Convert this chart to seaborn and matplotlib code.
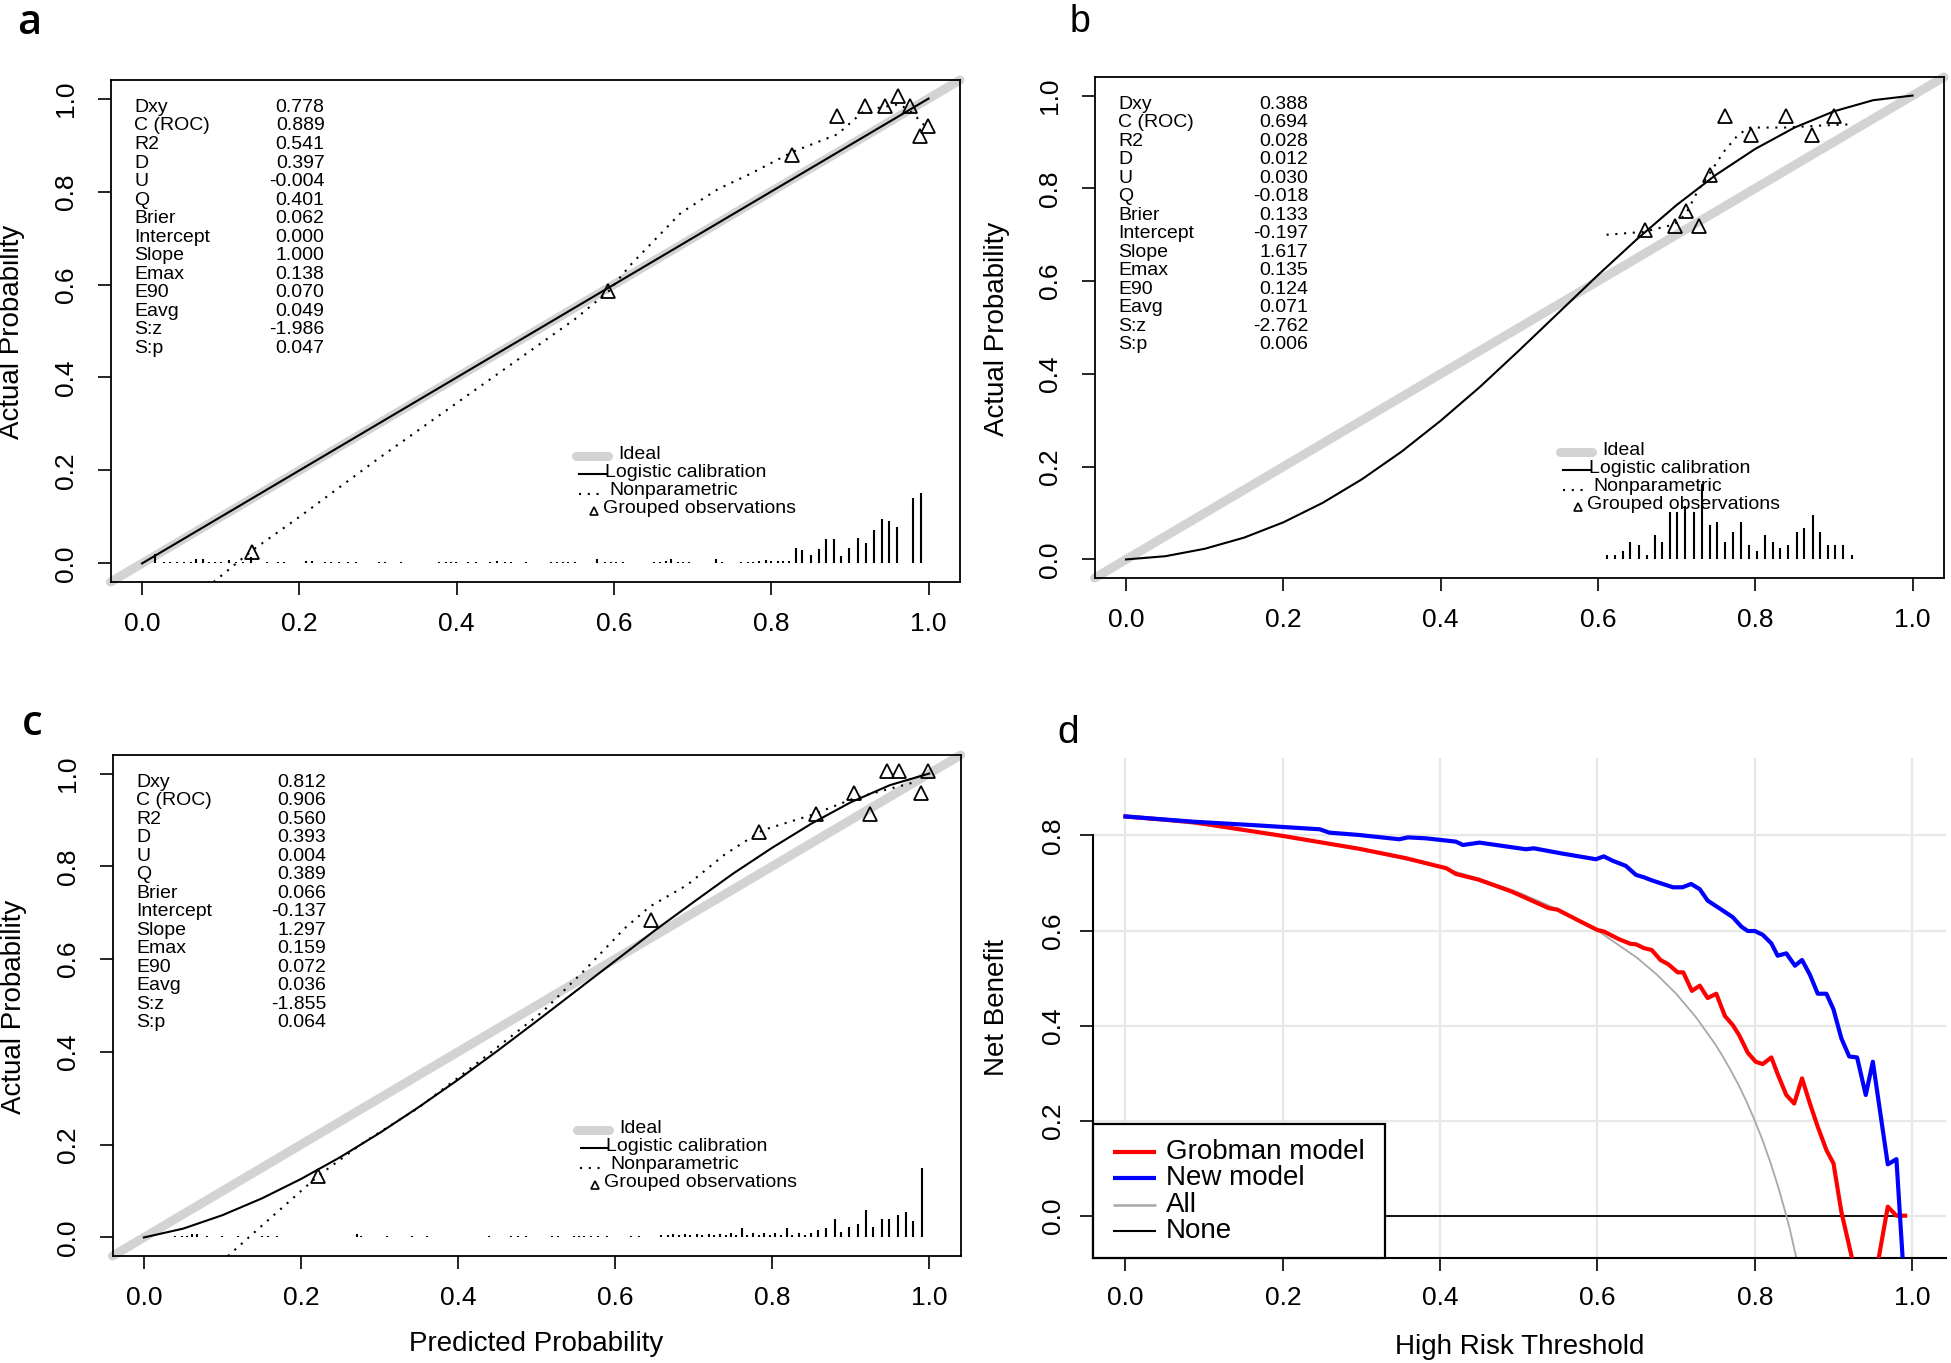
import matplotlib
matplotlib.use("Agg")
import matplotlib.pyplot as plt
import seaborn as sns
import pandas as pd
from matplotlib.patches import Rectangle

plt.rcParams['font.family'] = ['Liberation Sans', 'DejaVu Sans']

# ---------------- data ----------------
stat_names = ["Dxy", "C (ROC)", "R2", "D", "U", "Q", "Brier", "Intercept", "Slope",
              "Emax", "E90", "Eavg", "S:z", "S:p"]
stats_a = ["0.778", "0.889", "0.541", "0.397", "-0.004", "0.401", "0.062", "0.000", "1.000",
           "0.138", "0.070", "0.049", "-1.986", "0.047"]
stats_b = ["0.388", "0.694", "0.028", "0.012", "0.030", "-0.018", "0.133", "-0.197", "1.617",
           "0.135", "0.124", "0.071", "-2.762", "0.006"]
stats_c = ["0.812", "0.906", "0.560", "0.393", "0.004", "0.389", "0.066", "-0.137", "1.297",
           "0.159", "0.072", "0.036", "-1.855", "0.064"]

ideal_x = [-0.04, 1.04]
ideal_y = [-0.04, 1.04]

# panel a
logit_a_x = [0.0, 1.0]
logit_a_y = [0.0, 1.0]
np_a_x = [0.091, 0.140, 0.200, 0.300, 0.400, 0.500, 0.550, 0.593, 0.621, 0.653, 0.685, 0.732,
          0.772, 0.828, 0.884, 0.919, 0.963, 0.979, 0.995]
np_a_y = [-0.040, 0.028, 0.100, 0.225, 0.345, 0.465, 0.525, 0.585, 0.642, 0.698, 0.754, 0.805,
          0.837, 0.886, 0.923, 0.975, 0.988, 0.970, 0.942]
tri_a_x = [0.140, 0.593, 0.826, 0.884, 0.919, 0.945, 0.961, 0.977, 0.989, 0.999]
tri_a_y = [0.025, 0.586, 0.878, 0.963, 0.984, 0.984, 1.006, 0.984, 0.920, 0.942]
spk_a_x = [0.017, 0.028, 0.036, 0.045, 0.053, 0.062, 0.069, 0.077, 0.085, 0.093, 0.100, 0.110,
           0.119, 0.128, 0.138, 0.159, 0.173, 0.181, 0.209, 0.216, 0.232, 0.240, 0.251, 0.262,
           0.272, 0.301, 0.309, 0.329, 0.378, 0.386, 0.393, 0.399, 0.414, 0.424, 0.443, 0.451,
           0.461, 0.469, 0.488, 0.520, 0.528, 0.535, 0.542, 0.550, 0.579, 0.588, 0.596, 0.603,
           0.611, 0.651, 0.659, 0.666, 0.673, 0.681, 0.688, 0.696, 0.730, 0.738, 0.762, 0.770,
           0.777, 0.785, 0.793, 0.800, 0.808, 0.815, 0.822, 0.831, 0.839, 0.851, 0.861, 0.870,
           0.880, 0.889, 0.899, 0.910, 0.921, 0.931, 0.941, 0.950, 0.960, 0.980, 0.991]
spk_a_h = [0.021, 0.004, 0.004, 0.004, 0.004, 0.004, 0.009, 0.009, 0.004, 0.004, 0.004, 0.008,
           0.004, 0.004, 0.014, 0.004, 0.004, 0.004, 0.006, 0.006, 0.004, 0.004, 0.004, 0.004,
           0.004, 0.004, 0.004, 0.004, 0.004, 0.004, 0.004, 0.004, 0.004, 0.004, 0.004, 0.006,
           0.004, 0.004, 0.004, 0.004, 0.004, 0.004, 0.004, 0.004, 0.009, 0.004, 0.004, 0.004,
           0.004, 0.004, 0.004, 0.006, 0.009, 0.004, 0.004, 0.004, 0.009, 0.004, 0.004, 0.004,
           0.004, 0.005, 0.008, 0.005, 0.005, 0.006, 0.005, 0.034, 0.029, 0.018, 0.032, 0.052,
           0.052, 0.016, 0.034, 0.054, 0.043, 0.071, 0.095, 0.092, 0.079, 0.140, 0.151]

# panel b
logit_b_x = [0.00, 0.05, 0.10, 0.15, 0.20, 0.25, 0.30, 0.35, 0.40, 0.45, 0.50, 0.55, 0.60,
             0.65, 0.70, 0.75, 0.80, 0.85, 0.90, 0.95, 1.00]
logit_b_y = [0.000, 0.007, 0.023, 0.047, 0.080, 0.122, 0.173, 0.232, 0.299, 0.372, 0.451, 0.532,
             0.613, 0.691, 0.764, 0.829, 0.885, 0.931, 0.966, 0.990, 1.000]
np_b_x = [0.611, 0.657, 0.697, 0.712, 0.727, 0.742, 0.760, 0.779, 0.794, 0.838, 0.880, 0.921]
np_b_y = [0.700, 0.706, 0.722, 0.745, 0.795, 0.832, 0.879, 0.917, 0.931, 0.931, 0.935, 0.938]
tri_b_x = [0.660, 0.698, 0.728, 0.712, 0.742, 0.762, 0.794, 0.839, 0.872, 0.900]
tri_b_y = [0.711, 0.718, 0.718, 0.751, 0.829, 0.957, 0.915, 0.957, 0.915, 0.957]
spk_b_x = [0.611, 0.622, 0.632, 0.641, 0.652, 0.662, 0.672, 0.682, 0.691, 0.701, 0.711, 0.722,
           0.732, 0.742, 0.752, 0.761, 0.772, 0.782, 0.792, 0.802, 0.812, 0.822, 0.832, 0.842,
           0.853, 0.862, 0.873, 0.882, 0.892, 0.902, 0.912, 0.923]
spk_b_h = [0.009, 0.009, 0.018, 0.038, 0.031, 0.009, 0.052, 0.038, 0.102, 0.102, 0.115, 0.102,
           0.162, 0.074, 0.081, 0.038, 0.060, 0.081, 0.031, 0.018, 0.052, 0.038, 0.025, 0.031,
           0.060, 0.067, 0.096, 0.060, 0.031, 0.031, 0.031, 0.009]

# panel c
logit_c_x = [0.00, 0.05, 0.10, 0.15, 0.20, 0.25, 0.30, 0.35, 0.40, 0.45, 0.50, 0.55, 0.60,
             0.65, 0.70, 0.75, 0.80, 0.85, 0.90, 0.95, 1.00]
logit_c_y = [0.000, 0.019, 0.048, 0.084, 0.126, 0.173, 0.225, 0.281, 0.340, 0.402, 0.466, 0.531,
             0.596, 0.661, 0.723, 0.784, 0.840, 0.892, 0.938, 0.975, 1.000]
np_c_x = [0.107, 0.150, 0.222, 0.280, 0.350, 0.420, 0.508, 0.564, 0.612, 0.644, 0.692, 0.740,
          0.788, 0.851, 0.905, 0.945, 0.985]
np_c_y = [-0.040, 0.025, 0.133, 0.205, 0.280, 0.370, 0.487, 0.581, 0.666, 0.713, 0.760, 0.826,
          0.878, 0.911, 0.947, 0.965, 0.983]
tri_c_x = [0.222, 0.646, 0.783, 0.856, 0.904, 0.925, 0.946, 0.962, 0.998, 0.990]
tri_c_y = [0.133, 0.685, 0.873, 0.912, 0.959, 0.912, 1.005, 1.005, 1.005, 0.959]
spk_c_x = [0.040, 0.048, 0.055, 0.061, 0.068, 0.080, 0.099, 0.120, 0.150, 0.158, 0.169, 0.271,
           0.277, 0.309, 0.341, 0.360, 0.440, 0.468, 0.477, 0.487, 0.520, 0.527, 0.548, 0.554,
           0.561, 0.569, 0.578, 0.590, 0.620, 0.631, 0.659, 0.667, 0.674, 0.681, 0.689, 0.696,
           0.704, 0.711, 0.719, 0.726, 0.733, 0.741, 0.748, 0.754, 0.761, 0.768, 0.776, 0.783,
           0.790, 0.797, 0.804, 0.811, 0.819, 0.825, 0.834, 0.842, 0.849, 0.859, 0.868, 0.880,
           0.888, 0.898, 0.909, 0.920, 0.929, 0.940, 0.949, 0.960, 0.970, 0.980, 0.991]
spk_c_h = [0.004, 0.004, 0.004, 0.008, 0.008, 0.004, 0.004, 0.004, 0.004, 0.004, 0.004, 0.008,
           0.004, 0.004, 0.004, 0.004, 0.004, 0.004, 0.004, 0.004, 0.004, 0.004, 0.004, 0.004,
           0.004, 0.004, 0.004, 0.004, 0.004, 0.004, 0.005, 0.005, 0.008, 0.005, 0.008, 0.005,
           0.008, 0.005, 0.008, 0.005, 0.008, 0.006, 0.010, 0.006, 0.020, 0.006, 0.010, 0.006,
           0.010, 0.006, 0.010, 0.006, 0.020, 0.006, 0.010, 0.006, 0.010, 0.016, 0.020, 0.040,
           0.011, 0.022, 0.029, 0.059, 0.023, 0.040, 0.040, 0.048, 0.054, 0.036, 0.150]

# panel d (decision curves)
new_t = [0.000, 0.086, 0.170, 0.247, 0.259, 0.297, 0.348, 0.359, 0.382, 0.420, 0.429, 0.450,
         0.492, 0.509, 0.519, 0.555, 0.598, 0.608, 0.619, 0.636, 0.649, 0.659, 0.670, 0.696,
         0.708, 0.719, 0.730, 0.740, 0.763, 0.772, 0.783, 0.791, 0.800, 0.810, 0.821, 0.829,
         0.840, 0.851, 0.860, 0.870, 0.880, 0.891, 0.900, 0.910, 0.920, 0.930, 0.941, 0.950,
         0.969, 0.980, 0.990]
new_nb = [0.840, 0.829, 0.821, 0.813, 0.806, 0.801, 0.792, 0.796, 0.794, 0.787, 0.780, 0.785,
          0.775, 0.771, 0.773, 0.762, 0.750, 0.756, 0.747, 0.736, 0.717, 0.712, 0.705, 0.691,
          0.691, 0.698, 0.687, 0.663, 0.638, 0.628, 0.608, 0.599, 0.599, 0.591, 0.573, 0.547,
          0.552, 0.526, 0.538, 0.507, 0.467, 0.467, 0.434, 0.373, 0.335, 0.333, 0.254, 0.324,
          0.108, 0.119, -0.146]
grob_t = [0.000, 0.086, 0.200, 0.297, 0.357, 0.408, 0.420, 0.449, 0.491, 0.538, 0.549, 0.576,
          0.600, 0.608, 0.627, 0.642, 0.649, 0.659, 0.669, 0.680, 0.690, 0.702, 0.709, 0.720,
          0.730, 0.740, 0.751, 0.762, 0.772, 0.780, 0.791, 0.801, 0.810, 0.821, 0.829, 0.840,
          0.850, 0.860, 0.870, 0.880, 0.891, 0.900, 0.910, 0.930, 0.952, 0.969, 0.980, 0.991]
grob_nb = [0.840, 0.828, 0.799, 0.772, 0.752, 0.731, 0.719, 0.707, 0.682, 0.647, 0.644, 0.621,
           0.601, 0.598, 0.582, 0.572, 0.571, 0.563, 0.559, 0.538, 0.529, 0.512, 0.512, 0.473,
           0.484, 0.458, 0.467, 0.420, 0.401, 0.380, 0.343, 0.324, 0.319, 0.333, 0.298, 0.254,
           0.236, 0.289, 0.236, 0.187, 0.138, 0.110, 0.008, -0.136, -0.140, 0.019, 0.000, 0.000]
all_t = [0.00, 0.10, 0.20, 0.30, 0.40, 0.45, 0.50, 0.55, 0.60, 0.65, 0.675, 0.70, 0.725, 0.75,
         0.76, 0.77, 0.78, 0.79, 0.80, 0.81, 0.82, 0.83, 0.84, 0.845, 0.86]
all_nb = [0.840, 0.822, 0.800, 0.771, 0.733, 0.709, 0.680, 0.644, 0.600, 0.543, 0.508, 0.467,
          0.418, 0.360, 0.333, 0.304, 0.273, 0.238, 0.200, 0.158, 0.111, 0.059, 0.000, -0.032,
          -0.143]
none_t = [0.0, 0.99]
none_nb = [0.0, 0.0]
dca_labels = ["Grobman model", "New model", "All", "None"]

# ---------------- layout ----------------
W, H = 1951, 1363
fig = plt.figure(figsize=(W / 100, H / 100), dpi=100)


def add_axes(left, top, right, bottom):
    return fig.add_axes([left / W, 1 - bottom / H, (right - left) / W, (bottom - top) / H])


IDEAL_C = '#d3d3d3'
DOT = (0, (1, 3.2))
FS_STAT = 14


def line(ax, x, y, **kw):
    df = pd.DataFrame({'x': x, 'y': y})
    sns.lineplot(data=df, x='x', y='y', ax=ax, sort=False, estimator=None, **kw)


def calib_panel(ax, lx, ly, nx, ny, tx, ty, sx, sh, stats):
    line(ax, ideal_x, ideal_y, color=IDEAL_C, lw=6.5, solid_capstyle='round',
         clip_on=False, zorder=1)
    ax.vlines(sx, 0, sh, color='black', lw=1.5, zorder=2)
    line(ax, lx, ly, color='black', lw=1.5, zorder=3)
    line(ax, nx, ny, color='black', lw=1.5, linestyle=DOT, zorder=3)
    ax.plot(tx, ty, linestyle='none', marker='^', ms=9.5, mfc='none', mec='black',
            mew=1.3, zorder=4)
    ax.set_xlim(-0.04, 1.04)
    ax.set_ylim(-0.04, 1.04)
    ax.set_xlabel('')
    ax.set_ylabel('')
    ticks = [0, 0.2, 0.4, 0.6, 0.8, 1.0]
    ax.set_xticks(ticks)
    ax.set_yticks(ticks)
    ax.set_xticklabels(['0.0', '0.2', '0.4', '0.6', '0.8', '1.0'])
    ax.set_yticklabels(['0.0', '0.2', '0.4', '0.6', '0.8', '1.0'])
    ax.tick_params(axis='both', direction='out', length=9.4, width=1.2, labelsize=19,
                   color='black')
    ax.tick_params(axis='x', pad=12)
    ax.tick_params(axis='y', pad=14, labelrotation=90)
    for lab in ax.get_yticklabels():
        lab.set_va('center')
    for s in ax.spines.values():
        s.set_linewidth(1.3)
        s.set_color('black')
    # statistics block
    for i, (n, v) in enumerate(zip(stat_names, stats)):
        yy = 0.981 - i * 0.0399
        ax.text(-0.01, yy, n, ha='left', va='center', fontsize=FS_STAT)
        ax.text(0.232, yy, v, ha='right', va='center', fontsize=FS_STAT)
    # legend (R style)
    ax.plot([0.552, 0.592], [0.232, 0.232], color=IDEAL_C, lw=6.5, solid_capstyle='round')
    ax.text(0.605, 0.235, 'Ideal', ha='left', va='center', fontsize=FS_STAT)
    ax.plot([0.556, 0.590], [0.192, 0.192], color='black', lw=1.5)
    ax.text(0.589, 0.196, 'Logistic calibration', ha='left', va='center', fontsize=FS_STAT)
    ax.plot([0.555, 0.588], [0.150, 0.150], color='black', lw=1.5, linestyle=DOT)
    ax.text(0.594, 0.157, 'Nonparametric', ha='left', va='center', fontsize=FS_STAT)
    ax.plot([0.575], [0.113], linestyle='none', marker='^', ms=5.5, mfc='none',
            mec='black', mew=1.2)
    ax.text(0.586, 0.119, 'Grouped observations', ha='left', va='center', fontsize=FS_STAT)


ax_a = add_axes(110.6, 80, 960, 582)
calib_panel(ax_a, logit_a_x, logit_a_y, np_a_x, np_a_y, tri_a_x, tri_a_y, spk_a_x, spk_a_h, stats_a)
ax_b = add_axes(1094.6, 77, 1944, 578)
calib_panel(ax_b, logit_b_x, logit_b_y, np_b_x, np_b_y, tri_b_x, tri_b_y, spk_b_x, spk_b_h, stats_b)
ax_c = add_axes(112.5, 755, 960.6, 1256)
calib_panel(ax_c, logit_c_x, logit_c_y, np_c_x, np_c_y, tri_c_x, tri_c_y, spk_c_x, spk_c_h, stats_c)

# ---------------- panel d ----------------
ax_d = add_axes(1093, 758, 1946, 1258)
ax_d.set_xlim(-0.0413, 1.043)
ax_d.set_ylim(-0.089, 0.963)
ax_d.set_xticks([0, 0.2, 0.4, 0.6, 0.8, 1.0])
ax_d.set_yticks([0, 0.2, 0.4, 0.6, 0.8])
ax_d.grid(True, color='#e8e8e8', lw=1.6)
ax_d.set_axisbelow(True)
line(ax_d, none_t, none_nb, color='black', lw=1.3, zorder=2)
line(ax_d, all_t, all_nb, color='#a8a8a8', lw=1.3, zorder=2)
line(ax_d, grob_t, grob_nb, color='#ff0000', lw=3.0, zorder=3)
line(ax_d, new_t, new_nb, color='#0000ff', lw=3.0, zorder=4)
ax_d.set_xlabel('')
ax_d.set_ylabel('')
ax_d.set_xticklabels(['0.0', '0.2', '0.4', '0.6', '0.8', '1.0'])
ax_d.set_yticklabels(['0.0', '0.2', '0.4', '0.6', '0.8'])
ax_d.spines['top'].set_visible(False)
ax_d.spines['right'].set_visible(False)
ax_d.spines['left'].set_bounds(-0.089, 0.8)
for s in ('left', 'bottom'):
    ax_d.spines[s].set_linewidth(1.5)
ax_d.tick_params(axis='both', direction='out', length=9.5, width=1.2, labelsize=19)
ax_d.tick_params(axis='x', pad=11)
ax_d.tick_params(axis='y', pad=11, labelrotation=90)
for lab in ax_d.get_yticklabels():
    lab.set_va('center')

# legend of panel d
leg_box = Rectangle((0, 0), 0.342, 0.268, transform=ax_d.transAxes, facecolor='white',
                    edgecolor='black', lw=1.6, zorder=10, clip_on=False)
ax_d.add_patch(leg_box)
leg_cols = ['#ff0000', '#0000ff', '#a8a8a8', 'black']
leg_lw = [3.0, 3.0, 1.8, 1.5]
leg_y = [0.2126, 0.1604, 0.1064, 0.0532]
for lab, col, lw_, yy in zip(dca_labels, leg_cols, leg_lw, leg_y):
    ax_d.plot([0.0234, 0.0744], [yy, yy], color=col, lw=lw_, transform=ax_d.transAxes,
              zorder=11, solid_capstyle='butt')
    ax_d.text(0.0854, yy, lab, transform=ax_d.transAxes, ha='left', va='center',
              fontsize=20, zorder=11)

# ---------------- axis labels & panel letters ----------------
def fx(px):
    return px / W


def fy(py):
    return 1 - py / H


fig.text(fx(12.5), fy(331.5), 'Actual Probability', rotation=90, ha='center', va='center', fontsize=20)
fig.text(fx(997), fy(328.5), 'Actual Probability', rotation=90, ha='center', va='center', fontsize=20)
fig.text(fx(14), fy(1007), 'Actual Probability', rotation=90, ha='center', va='center', fontsize=20)
fig.text(fx(997), fy(1007.5), 'Net Benefit', rotation=90, ha='center', va='center', fontsize=20)
fig.text(fx(536.5), fy(1344), 'Predicted Probability', ha='center', va='center', fontsize=20)
fig.text(fx(1519.5), fy(1347), 'High Risk Threshold', ha='center', va='center', fontsize=20)

fig.text(fx(17), fy(34), 'a', ha='left', va='baseline', fontsize=30, fontweight='semibold',
         family=['Open Sans', 'DejaVu Sans'])
fig.text(fx(22), fy(735), 'c', ha='left', va='baseline', fontsize=30, fontweight='semibold',
         family=['Open Sans', 'DejaVu Sans'])
fig.text(fx(1070), fy(32.5), 'b', ha='left', va='baseline', fontsize=27)
fig.text(fx(1057), fy(743), 'd', ha='left', va='baseline', fontsize=28)

fig.savefig('out.png', dpi=100)
